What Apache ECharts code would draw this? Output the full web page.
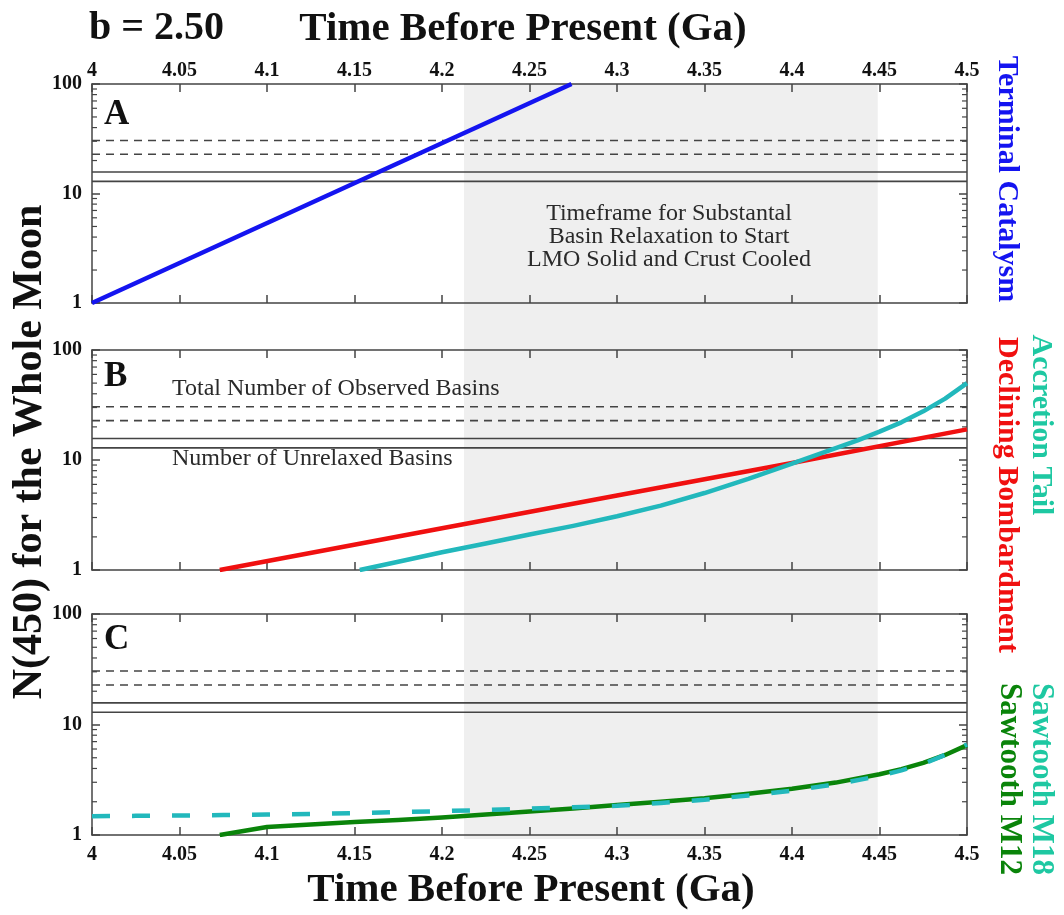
<!DOCTYPE html>
<html>
<head>
<meta charset="utf-8">
<script src="https://cdn.jsdelivr.net/npm/echarts@6/dist/echarts.min.js"></script>
<style>
  html, body { margin: 0; padding: 0; background: #ffffff; }
  #chart { width: 1064px; height: 915px; }
</style>
</head>
<body>
<div id="chart"></div>
<script>
// Time axis, Ga before present
const timeMin = 4.0;
const timeMax = 4.5;
const timeStep = 0.05;

// Window in which substantial basin relaxation can start
const relaxWindow = [4.2126, 4.449];

// Reference basin counts (dashed: observed total, solid: unrelaxed)
const observedBasins = [30.5, 22.8];
const unrelaxedBasins = [15.7, 12.9];

// Minor ticks of the log N axis
const minorTickValues = [2, 3, 4, 5, 6, 7, 8, 9, 20, 30, 40, 50, 60, 70, 80, 90];

// Panel A: terminal catalysm
const terminalT = [4.0, 4.274];
const terminalN = [1, 100];

// Panel B: declining bombardment
const decliningT = [4.073, 4.2, 4.3, 4.4, 4.5];
const decliningN = [1, 2.4, 4.75, 9.4, 19];

// Panel B: accretion tail
const accretionT = [4.153, 4.175, 4.2, 4.225, 4.25, 4.275, 4.3, 4.325, 4.35, 4.375, 4.4,
                    4.4125, 4.425, 4.4375, 4.45, 4.4625, 4.475, 4.4875, 4.5];
const accretionN = [1.0, 1.19, 1.45, 1.74, 2.1, 2.52, 3.08, 3.85, 5.01, 6.73, 9.29,
                    10.9, 12.8, 15.1, 18.1, 22.0, 27.7, 36.1, 50];

// Panel C: sawtooth M12
const sawM12T = [4.073, 4.1, 4.125, 4.15, 4.175, 4.2, 4.225, 4.25, 4.275, 4.3, 4.325, 4.35,
                 4.375, 4.4, 4.425, 4.45, 4.4625, 4.475, 4.4875, 4.5];
const sawM12N = [1.0, 1.18, 1.245, 1.31, 1.37, 1.44, 1.53, 1.63, 1.74, 1.87, 2.0, 2.15,
                 2.36, 2.62, 2.98, 3.55, 3.95, 4.5, 5.3, 6.5];

// Panel C: sawtooth M18
const sawM18T = [4.0, 4.025, 4.05, 4.075, 4.1, 4.125, 4.15, 4.175, 4.2, 4.225, 4.25, 4.275,
                 4.3, 4.325, 4.35, 4.375, 4.4, 4.425, 4.45, 4.4625, 4.475, 4.4875, 4.5];
const sawM18N = [1.48, 1.49, 1.5, 1.515, 1.53, 1.55, 1.575, 1.61, 1.645, 1.685, 1.73, 1.78,
                 1.84, 1.95, 2.08, 2.28, 2.52, 2.88, 3.42, 3.85, 4.4, 5.3, 6.6];

const SERIF = '"Liberation Serif", "Times New Roman", serif';
const AXIS_COLOR = '#444';
const C_BLUE = '#1414f0';
const C_RED = '#f01010';
const C_CYAN = '#22b8bc';
const C_TEAL_TEXT = '#1ec8a2';
const C_GREEN = '#0a840a';

const zip = (xs, ys) => xs.map((x, i) => [x, ys[i]]);
const fmtTime = v => String(+v.toFixed(2));

const panels = [
  { top: 84, height: 219 },
  { top: 350, height: 220 },
  { top: 614, height: 221 }
];
const gridLeft = 92, gridRight = 97;

const grid = [{ left: gridLeft, right: gridRight, top: 84, bottom: 76 }];
panels.forEach(p => grid.push({ left: gridLeft, right: gridRight, top: p.top, height: p.height }));

const xAxis = [{ gridIndex: 0, type: 'value', min: timeMin, max: timeMax, show: false }];
const yAxis = [{ gridIndex: 0, type: 'value', min: 0, max: 1, show: false }];

function timeAxis(gi, position, labels) {
  return {
    gridIndex: gi, type: 'value', position: position,
    min: timeMin, max: timeMax, interval: timeStep,
    axisLine: { show: true, onZero: false, lineStyle: { color: AXIS_COLOR, width: 1.5 } },
    axisTick: { show: true, inside: true, length: 8, lineStyle: { color: AXIS_COLOR, width: 1.5 } },
    axisLabel: {
      show: labels, margin: position === 'top' ? 3 : 10,
      formatter: fmtTime, color: '#111',
      fontFamily: SERIF, fontWeight: 'bold', fontSize: 20
    },
    splitLine: { show: false }
  };
}
function countAxis(gi, position, labels) {
  return {
    gridIndex: gi, type: 'log', logBase: 10, position: position,
    min: 1, max: 100,
    axisLine: { show: true, lineStyle: { color: AXIS_COLOR, width: 1.5 } },
    axisTick: { show: true, inside: true, length: 8, lineStyle: { color: AXIS_COLOR, width: 1.5 } },
    axisLabel: {
      show: labels, margin: 10, color: '#111',
      fontFamily: SERIF, fontWeight: 'bold', fontSize: 20
    },
    splitLine: { show: false }
  };
}

// per panel: bottom x, top x, left y, right y
panels.forEach((p, i) => {
  const gi = i + 1;
  xAxis.push(timeAxis(gi, 'bottom', i === 2));
  xAxis.push(timeAxis(gi, 'top', i === 0));
  yAxis.push(countAxis(gi, 'left', true));
  yAxis.push(countAxis(gi, 'right', false));
});
const xIdx = i => 1 + i * 2;
const yIdx = i => 1 + i * 2;

const series = [];

// shaded relaxation window spanning all three panels
series.push({
  type: 'custom', xAxisIndex: 0, yAxisIndex: 0, z: 0, silent: true,
  data: [[relaxWindow[0], relaxWindow[1]]],
  encode: { x: [0, 1] },
  renderItem: (params, api) => {
    const a = api.coord([api.value(0), 1]);
    const b = api.coord([api.value(1), 0]);
    return { type: 'rect', shape: { x: a[0], y: a[1], width: b[0] - a[0], height: b[1] - a[1] }, style: { fill: '#efefef' } };
  }
});

const levelData = observedBasins.map(v => [timeMin, v, 1]).concat(unrelaxedBasins.map(v => [timeMin, v, 0]));

panels.forEach((p, i) => {
  // horizontal reference levels
  series.push({
    type: 'custom', xAxisIndex: xIdx(i), yAxisIndex: yIdx(i), z: 3, silent: true,
    data: levelData, encode: { x: 0, y: 1 },
    renderItem: (params, api) => {
      const v = api.value(1);
      const a = api.coord([timeMin, v]);
      const b = api.coord([timeMax, v]);
      return {
        type: 'line',
        shape: { x1: a[0], y1: a[1], x2: b[0], y2: b[1] },
        style: { stroke: AXIS_COLOR, lineWidth: 1.6, lineDash: api.value(2) ? [8, 6] : null }
      };
    }
  });
  // minor log ticks on both frame sides
  series.push({
    type: 'custom', xAxisIndex: xIdx(i), yAxisIndex: yIdx(i), z: 4, silent: true,
    data: minorTickValues.map(v => [timeMin, v]), encode: { x: 0, y: 1 },
    renderItem: (params, api) => {
      const v = api.value(1);
      const a = api.coord([timeMin, v]);
      const b = api.coord([timeMax, v]);
      const st = { stroke: AXIS_COLOR, lineWidth: 1.2 };
      return {
        type: 'group', children: [
          { type: 'line', shape: { x1: a[0], y1: a[1], x2: a[0] + 5, y2: a[1] }, style: st },
          { type: 'line', shape: { x1: b[0] - 5, y1: b[1], x2: b[0], y2: b[1] }, style: st }
        ]
      };
    }
  });
});

function curve(name, panel, t, n, color, dash) {
  return {
    name: name, type: 'line', xAxisIndex: xIdx(panel), yAxisIndex: yIdx(panel),
    data: zip(t, n), showSymbol: false, smooth: false, z: 6, silent: true,
    lineStyle: { color: color, width: 4.5, type: dash || 'solid', cap: 'butt', join: 'round' }
  };
}
series.push(curve('Terminal Catalysm', 0, terminalT, terminalN, C_BLUE));
series.push(curve('Declining Bombardment', 1, decliningT, decliningN, C_RED));
series.push(curve('Accretion Tail', 1, accretionT, accretionN, C_CYAN));
series.push(curve('Sawtooth M12', 2, sawM12T, sawM12N, C_GREEN));
series.push(curve('Sawtooth M18', 2, sawM18T, sawM18N, C_CYAN, [18, 22]));

function txt(text, x, y, font, color, align, rotation, extra) {
  return {
    type: 'text', x: x, y: y, rotation: rotation || 0, z: 10, silent: true,
    style: Object.assign({ text: text, font: font, fill: color, align: align, verticalAlign: 'middle' }, extra || {})
  };
}
const bold = s => 'bold ' + s + 'px ' + SERIF;
const norm = s => s + 'px ' + SERIF;

const graphic = [
  txt('b = 2.50', 89, 29, bold(40), '#111', 'left'),
  txt('Time Before Present (Ga)', 523, 29, bold(41), '#111', 'center'),
  txt('Time Before Present (Ga)', 531, 890, bold(41), '#111', 'center'),
  txt('N(450) for the Whole Moon', 30, 452, bold(42), '#111', 'center', Math.PI / 2),
  txt('A', 104, 115, bold(35), '#111', 'left'),
  txt('B', 104, 377, bold(35), '#111', 'left'),
  txt('C', 104, 640, bold(35), '#111', 'left'),
  txt('Total Number of Observed Basins', 172, 389, norm(24), '#2a2a2a', 'left'),
  txt('Number of Unrelaxed Basins', 172, 459, norm(24), '#2a2a2a', 'left'),
  txt('Timeframe for Substantal\nBasin Relaxation to Start\nLMO Solid and Crust Cooled', 669, 237, norm(24), '#2a2a2a', 'center', 0, { lineHeight: 23 }),
  txt('Terminal Catalysm', 1007, 179, bold(30), C_BLUE, 'center', -Math.PI / 2),
  txt('Accretion Tail', 1041, 425, bold(30), C_TEAL_TEXT, 'center', -Math.PI / 2),
  txt('Declining Bombardment', 1007, 495, bold(30), C_RED, 'center', -Math.PI / 2),
  txt('Sawtooth M18', 1041, 779, bold(31), C_TEAL_TEXT, 'center', -Math.PI / 2),
  txt('Sawtooth M12', 1009, 779, bold(31), C_GREEN, 'center', -Math.PI / 2)
];

const chart = echarts.init(document.getElementById('chart'), null, { renderer: 'canvas' });
chart.setOption({
  backgroundColor: '#ffffff',
  animation: false,
  grid: grid,
  xAxis: xAxis,
  yAxis: yAxis,
  series: series,
  graphic: graphic
});
</script>
</body>
</html>
